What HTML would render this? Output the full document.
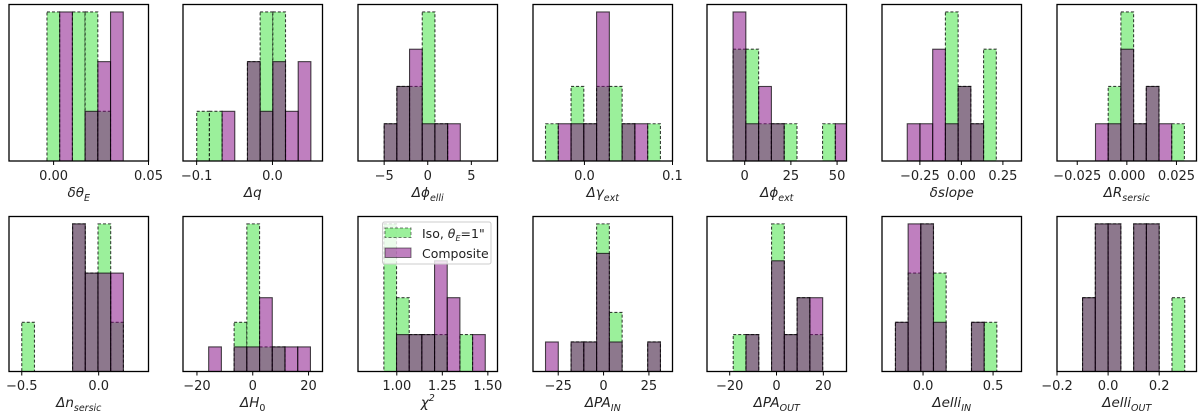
<!DOCTYPE html>
<html><head><meta charset="utf-8">
<style>
html,body{margin:0;padding:0;background:#fff;}
svg{display:block;font-family:"DejaVu Sans","Liberation Sans",sans-serif;}
</style></head>
<body>
<svg id="fig" width="1200" height="414" viewBox="0 0 1200 414" xmlns="http://www.w3.org/2000/svg"></svg>
<script>
const panelNames = ["delta-theta-e","delta-q","delta-phi-elli","delta-gamma-ext","delta-phi-ext","delta-slope","delta-r-sersic","delta-n-sersic","delta-h0","chi-squared","delta-pa-in","delta-pa-out","delta-elli-in","delta-elli-out"];
const xLimits = [[-0.0235,0.05],[-0.118,0.066],[-8,8],[-0.0584,0.1],[-20.4,55.1],[-0.478,0.362],[-0.0352,0.0351],[-0.583,0.324],[-25,25],[0.787,1.553],[-38.9,38],[-29.7,29.9],[-0.293,0.703],[-0.2,0.346]];
const tickValues = [[0,0.05],[-0.1,0],[-5,0,5],[0,0.1],[0,25,50],[-0.25,0,0.25],[-0.025,0,0.025],[-0.5,0],[-20,0,20],[1,1.25,1.5],[-25,0,25],[-20,0,20],[0,0.5],[-0.2,0,0.2]];
const tickLabels = [["0.00","0.05"],["−0.1","0.0"],["−5","0","5"],["0.0","0.1"],["0","25","50"],["−0.25","0.00","0.25"],["−0.025","0.000","0.025"],["−0.5","0.0"],["−20","0","20"],["1.00","1.25","1.50"],["−25","0","25"],["−20","0","20"],["0.0","0.5"],["−0.2","0.0","0.2"]];
const binStarts = [-0.0035,-0.0999,-5,-0.0442,-6.3,-0.326,-0.0158,-0.5,-15.8,0.929,-32,-18.5,-0.197,-0.1];
const binWidths = [0.0067,0.01673,1.456,0.0145,6.92,0.0766,0.0064,0.0826,4.56,0.0696,7.04,5.46,0.0905,0.05];
const isoCounts = [[3,0,3,3,1,0],[1,1,0,0,2,3,3,0,0],[1,2,2,4,1,0],[1,0,2,1,2,2,1,0,1],[3,3,1,1,1,0,0,1,0],[0,0,0,4,2,1,3],[0,2,4,1,2,0,1],[1,0,0,0,3,2,3,1],[0,0,2,6,1,1,0,0],[4,2,1,1,1,0,1,0],[0,0,1,1,5,2,0,0,1],[1,1,0,4,1,2,1],[1,2,3,2,0,0,1,1],[1,2,2,0,2,2,0,1]];
const compositeCounts = [[0,3,0,1,2,3],[0,0,1,0,2,1,2,1,2],[1,2,3,1,1,1],[0,1,1,1,4,0,1,1,0],[4,1,2,1,0,0,0,0,1],[1,1,3,1,2,1,0],[1,1,3,1,2,1,0],[0,0,0,0,3,2,2,2],[1,0,1,1,3,1,1,1],[0,1,1,1,3,2,0,1],[1,0,1,1,4,1,0,0,1],[0,1,0,3,1,2,2],[1,3,3,1,0,0,1,0],[1,2,2,0,2,2,0,0]];
const axisLabels = [["δθ","E"],["Δq",""],["Δϕ","elli"],["Δγ","ext"],["Δϕ","ext"],["δslope",""],["ΔR","sersic"],["Δn","sersic"],["ΔH","0"],["χ","2"],["ΔPA","IN"],["ΔPA","OUT"],["Δelli","IN"],["Δelli","OUT"]];

const NS="http://www.w3.org/2000/svg";
const svg=document.getElementById('fig');
function mk(tag,attrs,parent){const e=document.createElementNS(NS,tag);for(const k in attrs)e.setAttribute(k,attrs[k]);(parent||svg).appendChild(e);return e;}
const colLeft=[9,183,358,533,707,882,1057];
const W=139.5;
const rowTop=[4.5,216.5], rowBot=[161,371.5];
const tickBase=[180,390], labelBase=[197,407];

for(let p=0;p<14;p++){
  const r=p<7?0:1, c=p%7;
  const x0=colLeft[c], x1=x0+W, y0=rowTop[r], y1=rowBot[r];
  const g=mk('g',{});
  
  
  const [a,b]=xLimits[p];
  const xs=v=>x0+(v-a)/(b-a)*W;
  const maxC=Math.max(...isoCounts[p],...compositeCounts[p]);
  const ymax=maxC*1.05;
  const ys=v=>y1-v/ymax*(y1-y0);
  const cp=mk('clipPath',{id:'clip'+p},g);
  mk('rect',{x:x0,y:y0,width:W,height:y1-y0},cp);
  const bars=mk('g',{'clip-path':'url(#clip'+p+')'},g);
  isoCounts[p].forEach((n,i)=>{
    if(!n)return;
    const l=xs(binStarts[p]+i*binWidths[p]), rr=xs(binStarts[p]+(i+1)*binWidths[p]);
    const el=mk('rect',{x:l,y:ys(n),width:rr-l,height:y1-ys(n),fill:'rgba(144,238,144,0.9)',stroke:'rgba(0,0,0,0.75)','stroke-width':1.1,'stroke-dasharray':'3,2'},bars);
    
    
  });
  compositeCounts[p].forEach((n,i)=>{
    if(!n)return;
    const l=xs(binStarts[p]+i*binWidths[p]), rr=xs(binStarts[p]+(i+1)*binWidths[p]);
    const el=mk('rect',{x:l,y:ys(n),width:rr-l,height:y1-ys(n),fill:'rgba(128,0,128,0.5)',stroke:'rgba(0,0,0,0.7)','stroke-width':1.1},bars);
    
    
  });
  const fr=mk('rect',{x:x0,y:y0,width:W,height:y1-y0,fill:'none',stroke:'#000','stroke-width':1.3},g);
  
  
  tickValues[p].forEach((v,i)=>{
    const tx=xs(v);
    mk('line',{x1:tx,x2:tx,y1:y1,y2:y1+4,stroke:'#000','stroke-width':1},g);
    const t=mk('text',{x:tx,y:tickBase[r],'text-anchor':'middle','font-size':13,fill:'#222'},g);
    t.textContent=tickLabels[p][i];
    
    
  });
  const lab=mk('text',{x:(x0+x1)/2,y:labelBase[r],'text-anchor':'middle','font-size':13.5,fill:'#222'},g);
  
  
  const m=mk('tspan',{'font-style':'italic'},lab); m.textContent=axisLabels[p][0];
  if(axisLabels[p][1]){
    const sup=axisLabels[p][1]==='2';
    const s=mk('tspan',{'font-style':(axisLabels[p][1]==='0'?'normal':'italic'),'font-size':9.5,dy:sup?-6:4},lab);
    s.textContent=axisLabels[p][1];
  }
}
// legend
const lg=mk('g',{});


mk('rect',{x:382.5,y:222,width:108.5,height:42,rx:2,fill:'rgba(255,255,255,0.8)',stroke:'#ccc','stroke-width':1},lg);
const e1=mk('rect',{x:385,y:228,width:26,height:9.5,fill:'rgba(144,238,144,0.9)',stroke:'rgba(0,0,0,0.5)','stroke-dasharray':'3,2'},lg);


const e2=mk('rect',{x:385,y:248,width:26,height:9.5,fill:'rgba(128,0,128,0.5)',stroke:'rgba(0,0,0,0.5)'},lg);


const t1=mk('text',{x:422,y:238,'font-size':12.5,fill:'#222'},lg);


t1.appendChild(document.createTextNode('Iso, '));
const ti=mk('tspan',{'font-style':'italic'},t1); ti.textContent='θ';
const tsub=mk('tspan',{'font-style':'italic','font-size':8,dy:3},t1); tsub.textContent='E';
const trest=mk('tspan',{dy:-3},t1); trest.textContent='=1"';
const t2=mk('text',{x:422,y:258,'font-size':12.5,fill:'#222'},lg);


t2.textContent='Composite';
</script>
</body></html>
